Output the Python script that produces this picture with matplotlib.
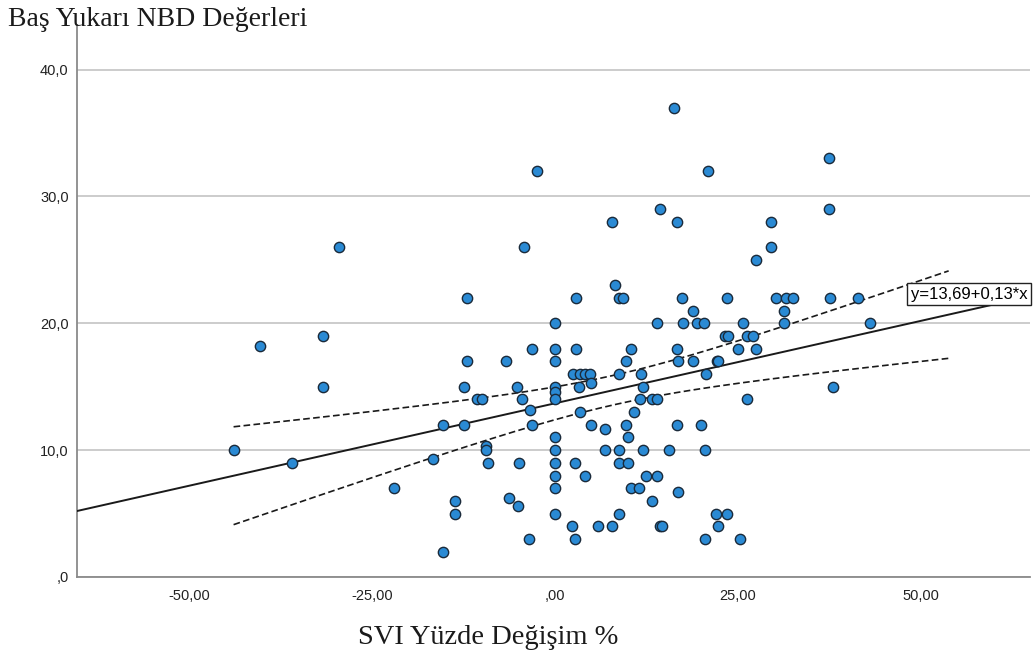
import numpy as np
import matplotlib
matplotlib.use("Agg")
import matplotlib.pyplot as plt

# SVI percent change vs. head-up NBD values
svi_change = [
    -43.9, -40.3, -35.9, -31.7, -31.7, -29.5, -22.0, -16.7, -15.3, -15.3,
    -13.7, -13.7, -12.4, -12.4, -12.0, -12.0, -10.7, -10.0, -9.4, -9.4,
    -9.2, -6.7, -6.3, -5.2, -5.0, -4.9, -4.5, -4.2, -3.4, -3.5,
    -3.1, -3.1, -2.5, 0.0, 0.0, 0.0, 0.0, 0.0, 0.0, 0.0,
    0.0, 0.0, 0.0, 0.0, 0.0, 2.3, 2.5, 2.7, 2.7, 2.9,
    2.9, 3.3, 3.4, 3.4, 4.1, 4.1, 4.8, 4.9, 4.9, 5.9,
    6.8, 6.8, 7.8, 7.8, 8.2, 8.7, 9.3, 8.7, 8.7, 8.7,
    8.7, 9.7, 9.7, 10.0, 10.0, 10.4, 10.4, 10.8, 11.5, 11.6,
    11.7, 12.0, 12.0, 12.4, 13.3, 13.3, 13.9, 13.9, 13.9, 14.3,
    14.3, 14.6, 15.6, 16.3, 16.7, 16.7, 16.8, 16.7, 16.8, 17.3,
    17.5, 18.9, 18.9, 19.4, 19.9, 20.4, 20.5, 20.5, 20.7, 20.9,
    22.0, 22.1, 22.3, 22.3, 23.2, 23.5, 23.6, 23.5, 25.0, 25.3,
    25.7, 26.2, 26.2, 27.0, 27.5, 27.5, 29.5, 29.5, 30.2, 31.3,
    31.3, 31.6, 32.5, 37.4, 37.4, 37.6, 38.0, 41.4, 43.0,
]
nbd = [
    10, 18.2, 9, 19, 15, 26, 7, 9.3, 12, 2,
    6, 5, 15, 12, 22, 17, 14, 14, 10.3, 10,
    9, 17, 6.2, 15, 5.6, 9, 14, 26, 13.2, 3,
    18, 12, 32, 20, 18, 17, 15, 14.6, 14, 11,
    10, 9, 8, 7, 5, 4, 16, 9, 3, 18,
    22, 15, 16, 13, 16, 8, 16, 15.3, 12, 4,
    11.7, 10, 28, 4, 23, 22, 22, 16, 10, 9,
    5, 17, 12, 11, 9, 18, 7, 13, 7, 14,
    16, 15, 10, 8, 14, 6, 14, 20, 8, 29,
    4, 4, 10, 37, 28, 18, 17, 12, 6.7, 22,
    20, 21, 17, 20, 12, 20, 10, 3, 16, 32,
    5, 17, 17, 4, 19, 22, 19, 5, 18, 3,
    20, 19, 14, 19, 18, 25, 28, 26, 22, 21,
    20, 22, 22, 33, 29, 22, 15, 22, 20,
]

intercept = 13.69
slope = 0.13
band_right = 53.8

x = np.array(svi_change)
y = np.array(nbd)

# 95% confidence band for the mean around the fitted line
n = len(x)
resid = y - (intercept + slope * x)
s = np.sqrt(np.sum(resid ** 2) / (n - 2))
sxx = np.sum((x - x.mean()) ** 2)
xb = np.linspace(x.min(), band_right, 200)
hw = 1.977 * s * np.sqrt(1.0 / n + (xb - x.mean()) ** 2 / sxx)
yb = intercept + slope * xb

fig = plt.figure(figsize=(10.33, 6.62), dpi=100)
ax = fig.add_axes([0.0745, 0.1284, 0.9225, 0.8336])
ax.set_xlim(-65.3, 64.9)
ax.set_ylim(0, 43.5)

ax.set_yticks([0, 10, 20, 30, 40])
ax.set_yticklabels([",0", "10,0", "20,0", "30,0", "40,0"])
ax.set_xticks([-50, -25, 0, 25, 50])
ax.set_xticklabels(["-50,00", "-25,00", ",00", "25,00", "50,00"])
for lbl in ax.get_xticklabels() + ax.get_yticklabels():
    lbl.set_fontfamily("Liberation Sans")
    lbl.set_fontsize(10.5)
    lbl.set_color("#222222")
ax.tick_params(axis="y", length=0, pad=6)
ax.tick_params(axis="x", length=0, pad=8.5)

ax.yaxis.grid(True, color="#c8c8c8", linewidth=1.3)
ax.set_axisbelow(True)
for side in ["top", "right"]:
    ax.spines[side].set_visible(False)
for side in ["left", "bottom"]:
    ax.spines[side].set_color("#8a8a8a")
    ax.spines[side].set_linewidth(1.3)

xl = np.array(ax.get_xlim())
ax.plot(xl, intercept + slope * xl, color="#1a1a1a", linewidth=1.4, zorder=3)
ax.plot(xb, yb + hw, color="#1a1a1a", linewidth=1.2, linestyle=(0, (4, 2)), zorder=3)
ax.plot(xb, yb - hw, color="#1a1a1a", linewidth=1.2, linestyle=(0, (4, 2)), zorder=3)

ax.scatter(x, y, s=55, color="#2a8ad4", edgecolor="#1a2a3a", linewidth=1.0, zorder=4)

ax.text(48.6, 22.3, "y=13,69+0,13*x", fontsize=12, family="Liberation Sans",
        ha="left", va="center", zorder=5, clip_on=False,
        bbox=dict(boxstyle="square,pad=0.2", facecolor="white", edgecolor="#222222", linewidth=1))

fig.text(8 / 1033, 1 - 20 / 662, "Baş Yukarı NBD Değerleri", family="Liberation Serif",
         fontsize=20, ha="left", va="center", color="#1a1a1a")
fig.text(488 / 1033, 1 - 638 / 662, "SVI Yüzde Değişim %", family="Liberation Serif",
         fontsize=20.5, ha="center", va="center", color="#1a1a1a")

fig.savefig("out.png", dpi=100)
